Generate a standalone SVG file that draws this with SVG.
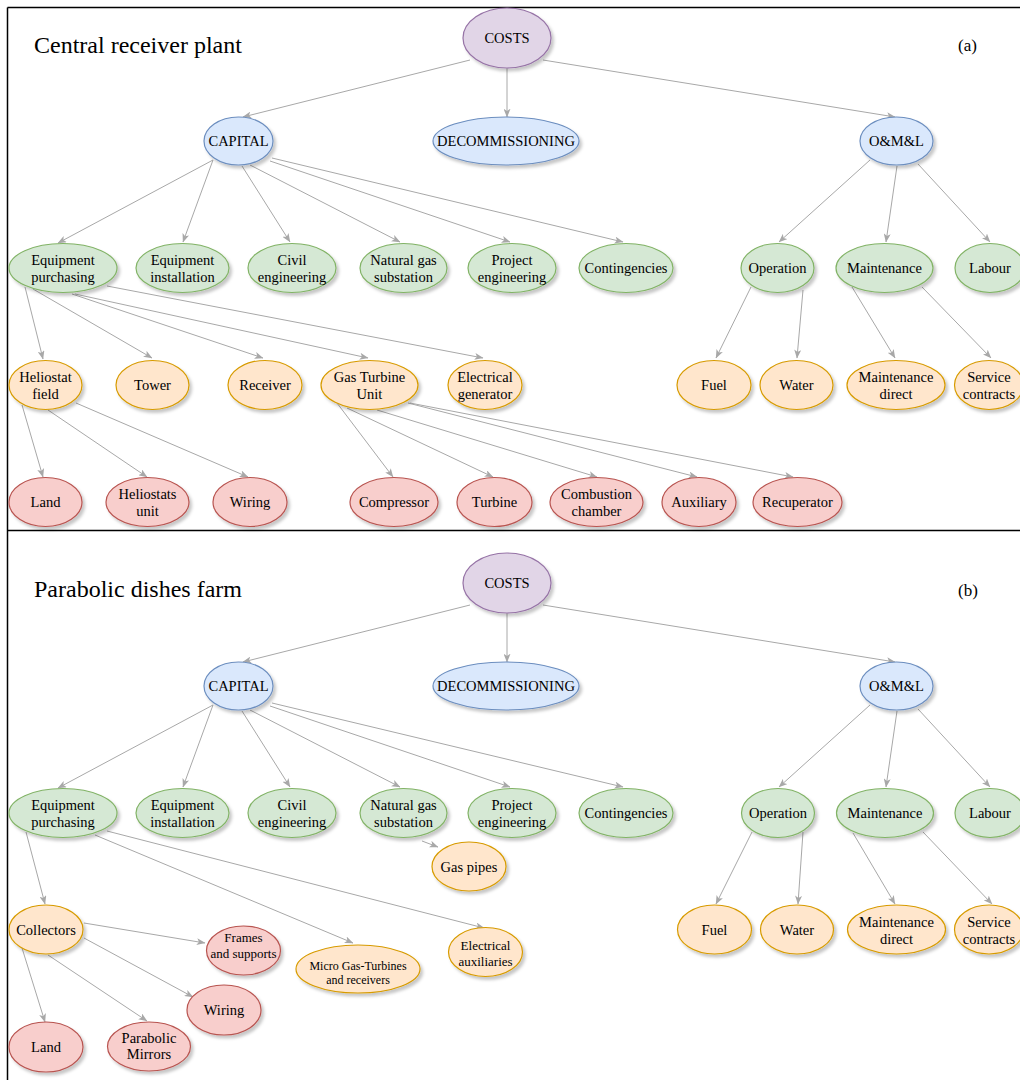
<svg xmlns="http://www.w3.org/2000/svg" width="1020" height="1080" viewBox="0 0 1020 1080">
<style>
text{font-family:"Liberation Serif","Times New Roman",serif;fill:#000;text-anchor:middle;font-size:14.5px}
.t{text-anchor:start;font-size:24px}
.lab{text-anchor:start;font-size:17px}
.s13{font-size:13px}
.s12{font-size:12px}
ellipse{stroke-width:1.2;filter:url(#sh)}
.pu{fill:#e1d5e7;stroke:#9673a6}
.bl{fill:#dae8fc;stroke:#6c8ebf}
.gr{fill:#d5e8d4;stroke:#82b366}
.or{fill:#ffe6cc;stroke:#d79b00}
.rd{fill:#f8cecc;stroke:#b85450}
#edges line{stroke:#a8a8a8;stroke-width:1;marker-end:url(#arr)}
.frame{stroke:#000;stroke-width:1.5}
</style>
<defs>
<filter id="sh" x="-20%" y="-20%" width="150%" height="160%">
<feDropShadow dx="2.5" dy="3" stdDeviation="1.5" flood-color="#000" flood-opacity="0.22"/>
</filter>
<marker id="arr" viewBox="0 0 10 8" refX="9.5" refY="4" markerWidth="9" markerHeight="7" orient="auto" markerUnits="userSpaceOnUse">
<path d="M0,0 L10,4 L0,8 L2.5,4 z" fill="#a8a8a8"/>
</marker>
</defs>
<rect width="1020" height="1080" fill="#fff"/>
<g id="frame">
<line class="frame" x1="7.5" y1="7.5" x2="1020" y2="7.5"/>
<line class="frame" x1="7.5" y1="7.5" x2="7.5" y2="1080"/>
<line class="frame" x1="7.5" y1="530.5" x2="1020" y2="530.5"/>
</g>
<text class="t" x="34" y="53">Central receiver plant</text>
<text class="lab" x="958" y="51">(a)</text>
<text class="t" x="34" y="597">Parabolic dishes farm</text>
<text class="lab" x="958" y="596">(b)</text>
<g id="edges">
<line x1="470" y1="60" x2="243" y2="117"/>
<line x1="507" y1="68" x2="507" y2="117"/>
<line x1="543" y1="60" x2="895" y2="117"/>
<line x1="213" y1="160" x2="58" y2="243"/>
<line x1="213" y1="160" x2="183" y2="242"/>
<line x1="242" y1="166" x2="290" y2="242"/>
<line x1="250" y1="165" x2="400" y2="242"/>
<line x1="270" y1="161" x2="510" y2="242"/>
<line x1="272" y1="158" x2="623" y2="242"/>
<line x1="870" y1="160" x2="779" y2="242"/>
<line x1="897" y1="166" x2="886" y2="242"/>
<line x1="918" y1="164" x2="990" y2="242"/>
<line x1="25" y1="287" x2="43" y2="359"/>
<line x1="33" y1="289" x2="152" y2="358"/>
<line x1="72" y1="294" x2="263" y2="358"/>
<line x1="75" y1="294" x2="368" y2="358"/>
<line x1="107" y1="286" x2="483" y2="358"/>
<line x1="22" y1="405" x2="43" y2="477"/>
<line x1="48" y1="410" x2="147" y2="477"/>
<line x1="76" y1="403" x2="248" y2="477"/>
<line x1="337" y1="403" x2="393" y2="477"/>
<line x1="347" y1="408" x2="493" y2="477"/>
<line x1="377" y1="410" x2="597" y2="477"/>
<line x1="408" y1="403" x2="697" y2="477"/>
<line x1="410" y1="403" x2="793" y2="477"/>
<line x1="751" y1="287" x2="716" y2="358"/>
<line x1="803" y1="290" x2="797" y2="358"/>
<line x1="852" y1="287" x2="895" y2="358"/>
<line x1="922" y1="287" x2="991" y2="358"/>
<line x1="470" y1="605" x2="243" y2="662"/>
<line x1="507" y1="613" x2="507" y2="662"/>
<line x1="543" y1="605" x2="895" y2="662"/>
<line x1="213" y1="705" x2="58" y2="788"/>
<line x1="213" y1="705" x2="183" y2="787"/>
<line x1="242" y1="711" x2="290" y2="787"/>
<line x1="250" y1="710" x2="400" y2="787"/>
<line x1="270" y1="706" x2="510" y2="787"/>
<line x1="272" y1="703" x2="623" y2="787"/>
<line x1="870" y1="705" x2="779" y2="787"/>
<line x1="897" y1="711" x2="886" y2="787"/>
<line x1="918" y1="709" x2="990" y2="787"/>
<line x1="422" y1="841" x2="438" y2="847"/>
<line x1="26" y1="832" x2="45" y2="904"/>
<line x1="95" y1="835" x2="353" y2="943"/>
<line x1="107" y1="831" x2="484" y2="928"/>
<line x1="84" y1="923" x2="205" y2="943"/>
<line x1="84" y1="938" x2="193" y2="997"/>
<line x1="48" y1="955" x2="147" y2="1021"/>
<line x1="22" y1="948" x2="45" y2="1022"/>
<line x1="752" y1="832" x2="716" y2="904"/>
<line x1="803" y1="832" x2="798" y2="904"/>
<line x1="853" y1="833" x2="895" y2="904"/>
<line x1="923" y1="832" x2="992" y2="904"/>
</g>
<g id="costs_a"><ellipse class="pu" cx="507" cy="38" rx="44" ry="30"/><text x="507" y="43">COSTS</text></g>
<g id="capital_a"><ellipse class="bl" cx="238.5" cy="141" rx="34.5" ry="24"/><text x="238.5" y="146">CAPITAL</text></g>
<g id="decom_a"><ellipse class="bl" cx="506" cy="141" rx="73" ry="24"/><text x="506" y="146">DECOMMISSIONING</text></g>
<g id="oml_a"><ellipse class="bl" cx="896.5" cy="141" rx="36.5" ry="24"/><text x="896.5" y="146">O&amp;M&amp;L</text></g>
<g id="ep_a"><ellipse class="gr" cx="63" cy="268" rx="54" ry="24.5"/><text x="63" y="265">Equipment</text><text x="63" y="282">purchasing</text></g>
<g id="ei_a"><ellipse class="gr" cx="182.5" cy="268" rx="46.5" ry="24.5"/><text x="182.5" y="265">Equipment</text><text x="182.5" y="282">installation</text></g>
<g id="ce_a"><ellipse class="gr" cx="292" cy="268" rx="44" ry="24.5"/><text x="292" y="265">Civil</text><text x="292" y="282">engineering</text></g>
<g id="ng_a"><ellipse class="gr" cx="403.5" cy="268" rx="43.5" ry="24.5"/><text x="403.5" y="265">Natural gas</text><text x="403.5" y="282">substation</text></g>
<g id="pe_a"><ellipse class="gr" cx="512" cy="268" rx="44" ry="24.5"/><text x="512" y="265">Project</text><text x="512" y="282">engineering</text></g>
<g id="cont_a"><ellipse class="gr" cx="626" cy="268" rx="47" ry="24.5"/><text x="626" y="273">Contingencies</text></g>
<g id="op_a"><ellipse class="gr" cx="777.5" cy="268" rx="36.5" ry="24.5"/><text x="777.5" y="273">Operation</text></g>
<g id="mt_a"><ellipse class="gr" cx="884.5" cy="268" rx="48.5" ry="24.5"/><text x="884.5" y="273">Maintenance</text></g>
<g id="lab_a"><ellipse class="gr" cx="990" cy="268" rx="35" ry="24.5"/><text x="990" y="273">Labour</text></g>
<g id="hf_a"><ellipse class="or" cx="45.5" cy="385" rx="36.5" ry="24.5"/><text x="45.5" y="382">Heliostat</text><text x="45.5" y="399">field</text></g>
<g id="tow_a"><ellipse class="or" cx="152.5" cy="385" rx="36.5" ry="24.5"/><text x="152.5" y="390">Tower</text></g>
<g id="rec_a"><ellipse class="or" cx="265" cy="385" rx="37" ry="24.5"/><text x="265" y="390">Receiver</text></g>
<g id="gtu_a"><ellipse class="or" cx="369.5" cy="385" rx="48.5" ry="24.5"/><text x="369.5" y="382">Gas Turbine</text><text x="369.5" y="399">Unit</text></g>
<g id="eg_a"><ellipse class="or" cx="485" cy="385" rx="37" ry="24.5"/><text x="485" y="382">Electrical</text><text x="485" y="399">generator</text></g>
<g id="fuel_a"><ellipse class="or" cx="714" cy="385" rx="37" ry="24.5"/><text x="714" y="390">Fuel</text></g>
<g id="water_a"><ellipse class="or" cx="796.5" cy="385" rx="36.5" ry="24.5"/><text x="796.5" y="390">Water</text></g>
<g id="md_a"><ellipse class="or" cx="896" cy="385" rx="49" ry="24.5"/><text x="896" y="382">Maintenance</text><text x="896" y="399">direct</text></g>
<g id="sc_a"><ellipse class="or" cx="989" cy="385" rx="34.5" ry="24.5"/><text x="989" y="382">Service</text><text x="989" y="399">contracts</text></g>
<g id="land_a"><ellipse class="rd" cx="45.5" cy="502" rx="36.5" ry="24.5"/><text x="45.5" y="507">Land</text></g>
<g id="hu_a"><ellipse class="rd" cx="147.5" cy="502" rx="41.5" ry="24.5"/><text x="147.5" y="499">Heliostats</text><text x="147.5" y="516">unit</text></g>
<g id="wir_a"><ellipse class="rd" cx="250" cy="502" rx="37" ry="24.5"/><text x="250" y="507">Wiring</text></g>
<g id="comp_a"><ellipse class="rd" cx="394" cy="502" rx="44" ry="24.5"/><text x="394" y="507">Compressor</text></g>
<g id="turb_a"><ellipse class="rd" cx="494.5" cy="502" rx="37.5" ry="24.5"/><text x="494.5" y="507">Turbine</text></g>
<g id="cc_a"><ellipse class="rd" cx="596.5" cy="502" rx="46.5" ry="24.5"/><text x="596.5" y="499">Combustion</text><text x="596.5" y="516">chamber</text></g>
<g id="aux_a"><ellipse class="rd" cx="699" cy="502" rx="37" ry="24.5"/><text x="699" y="507">Auxiliary</text></g>
<g id="recu_a"><ellipse class="rd" cx="797.5" cy="502" rx="44.5" ry="24.5"/><text x="797.5" y="507">Recuperator</text></g>
<g id="costs_b"><ellipse class="pu" cx="507" cy="583" rx="44" ry="30"/><text x="507" y="588">COSTS</text></g>
<g id="capital_b"><ellipse class="bl" cx="238.5" cy="686" rx="34.5" ry="24"/><text x="238.5" y="691">CAPITAL</text></g>
<g id="decom_b"><ellipse class="bl" cx="506" cy="686" rx="73" ry="24"/><text x="506" y="691">DECOMMISSIONING</text></g>
<g id="oml_b"><ellipse class="bl" cx="896.5" cy="686" rx="36.5" ry="24"/><text x="896.5" y="691">O&amp;M&amp;L</text></g>
<g id="ep_b"><ellipse class="gr" cx="63" cy="813" rx="54" ry="24.5"/><text x="63" y="810">Equipment</text><text x="63" y="827">purchasing</text></g>
<g id="ei_b"><ellipse class="gr" cx="182.5" cy="813" rx="46.5" ry="24.5"/><text x="182.5" y="810">Equipment</text><text x="182.5" y="827">installation</text></g>
<g id="ce_b"><ellipse class="gr" cx="292" cy="813" rx="44" ry="24.5"/><text x="292" y="810">Civil</text><text x="292" y="827">engineering</text></g>
<g id="ng_b"><ellipse class="gr" cx="403.5" cy="813" rx="43.5" ry="24.5"/><text x="403.5" y="810">Natural gas</text><text x="403.5" y="827">substation</text></g>
<g id="pe_b"><ellipse class="gr" cx="512" cy="813" rx="44" ry="24.5"/><text x="512" y="810">Project</text><text x="512" y="827">engineering</text></g>
<g id="cont_b"><ellipse class="gr" cx="626" cy="813" rx="47" ry="24.5"/><text x="626" y="818">Contingencies</text></g>
<g id="op_b"><ellipse class="gr" cx="778" cy="813" rx="36.5" ry="24.5"/><text x="778" y="818">Operation</text></g>
<g id="mt_b"><ellipse class="gr" cx="885" cy="813" rx="48.5" ry="24.5"/><text x="885" y="818">Maintenance</text></g>
<g id="lab_b"><ellipse class="gr" cx="990" cy="813" rx="35" ry="24.5"/><text x="990" y="818">Labour</text></g>
<g id="gp_b"><ellipse class="or" cx="469" cy="866.5" rx="37" ry="24.5"/><text x="469" y="871.5">Gas pipes</text></g>
<g id="coll_b"><ellipse class="or" cx="46" cy="929.5" rx="37" ry="24.5"/><text x="46" y="934.5">Collectors</text></g>
<g id="fr_b"><ellipse class="rd" cx="243.5" cy="950.5" rx="37" ry="24.5"/><text class="s13" x="243.5" y="941.5">Frames</text><text class="s13" x="243.5" y="958">and supports</text></g>
<g id="mgt_b"><ellipse class="or" cx="358" cy="969" rx="62" ry="24"/><text class="s12" x="358" y="970">Micro Gas-Turbines</text><text class="s12" x="358" y="984">and receivers</text></g>
<g id="ea_b"><ellipse class="or" cx="485.5" cy="952" rx="37" ry="24.5"/><text class="s13" x="485.5" y="950">Electrical</text><text class="s13" x="485.5" y="966">auxiliaries</text></g>
<g id="wir_b"><ellipse class="rd" cx="224" cy="1010" rx="37" ry="25"/><text x="224" y="1015">Wiring</text></g>
<g id="land_b"><ellipse class="rd" cx="46" cy="1047" rx="37" ry="25"/><text x="46" y="1052">Land</text></g>
<g id="pm_b"><ellipse class="rd" cx="149" cy="1046.5" rx="41.5" ry="24.5"/><text x="149" y="1043">Parabolic</text><text x="149" y="1059">Mirrors</text></g>
<g id="fuel_b"><ellipse class="or" cx="714.5" cy="929.5" rx="37" ry="24.5"/><text x="714.5" y="934.5">Fuel</text></g>
<g id="water_b"><ellipse class="or" cx="797" cy="929.5" rx="36.5" ry="24.5"/><text x="797" y="934.5">Water</text></g>
<g id="md_b"><ellipse class="or" cx="896.5" cy="929.5" rx="49" ry="24.5"/><text x="896.5" y="926.5">Maintenance</text><text x="896.5" y="943.5">direct</text></g>
<g id="sc_b"><ellipse class="or" cx="989" cy="929.5" rx="34.5" ry="24.5"/><text x="989" y="926.5">Service</text><text x="989" y="943.5">contracts</text></g>
</svg>
